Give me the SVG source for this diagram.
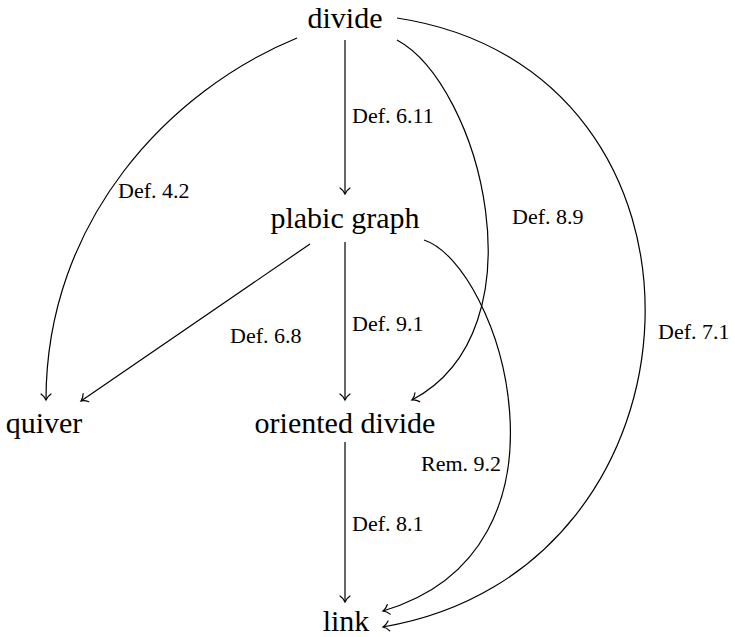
<svg xmlns="http://www.w3.org/2000/svg" width="735" height="637" viewBox="0 0 735 637">
<defs>
<style>
.edge{fill:none;stroke:#000;stroke-width:1.2}
</style>
<marker id="to" markerUnits="userSpaceOnUse" markerWidth="14" markerHeight="14" viewBox="-8 -7 10 14" refX="0" refY="0" orient="auto">
<path d="M -6 -5 C -4 -2 -1.5 -0.6 0 0 C -1.5 0.6 -4 2 -6 5" fill="none" stroke="#000" stroke-width="1.2" stroke-linecap="round"/>
</marker>
</defs>
<rect width="735" height="637" fill="#fff"/>
<g id="connectors">
<path class="edge" marker-end="url(#to)" d="M 345 40 L 345 194"/>
<path class="edge" marker-end="url(#to)" d="M 345 242 L 345 400"/>
<path class="edge" marker-end="url(#to)" d="M 345 442 L 345 602"/>
<path class="edge" marker-end="url(#to)" d="M 297 38 C 170 90 46 220 46 400"/>
<path class="edge" marker-end="url(#to)" d="M 310 244 L 81 401"/>
<path class="edge" marker-end="url(#to)" d="M 397 40 C 480 85 545 330 412 400"/>
<path class="edge" marker-end="url(#to)" d="M 424 240 C 500 265 590 550 383 611"/>
<path class="edge" marker-end="url(#to)" d="M 397 18 C 740 70 720 570 383 627"/>
</g>
<g id="labels">
<text font-family="Times New Roman, Liberation Serif, serif" font-size="22" x="352" y="123">Def. 6.11</text>
<text font-family="Times New Roman, Liberation Serif, serif" font-size="22" x="118" y="198">Def. 4.2</text>
<text font-family="Times New Roman, Liberation Serif, serif" font-size="22" x="512" y="224">Def. 8.9</text>
<text font-family="Times New Roman, Liberation Serif, serif" font-size="22" x="658" y="339">Def. 7.1</text>
<text font-family="Times New Roman, Liberation Serif, serif" font-size="22" x="230" y="343">Def. 6.8</text>
<text font-family="Times New Roman, Liberation Serif, serif" font-size="22" x="352" y="331">Def. 9.1</text>
<text font-family="Times New Roman, Liberation Serif, serif" font-size="22" x="421" y="471">Rem. 9.2</text>
<text font-family="Times New Roman, Liberation Serif, serif" font-size="22" x="352" y="531">Def. 8.1</text>
</g>
<g id="node-divide"><text font-family="Times New Roman, Liberation Serif, serif" font-size="30" x="345" y="28" text-anchor="middle">divide</text></g>
<g id="node-plabic"><text font-family="Times New Roman, Liberation Serif, serif" font-size="30" x="345" y="228" text-anchor="middle">plabic graph</text></g>
<g id="node-quiver"><text font-family="Times New Roman, Liberation Serif, serif" font-size="30" x="44" y="433" text-anchor="middle">quiver</text></g>
<g id="node-oriented"><text font-family="Times New Roman, Liberation Serif, serif" font-size="30" x="345" y="433" text-anchor="middle">oriented divide</text></g>
<g id="node-link"><text font-family="Times New Roman, Liberation Serif, serif" font-size="30" x="346" y="631" text-anchor="middle">link</text></g>
</svg>
